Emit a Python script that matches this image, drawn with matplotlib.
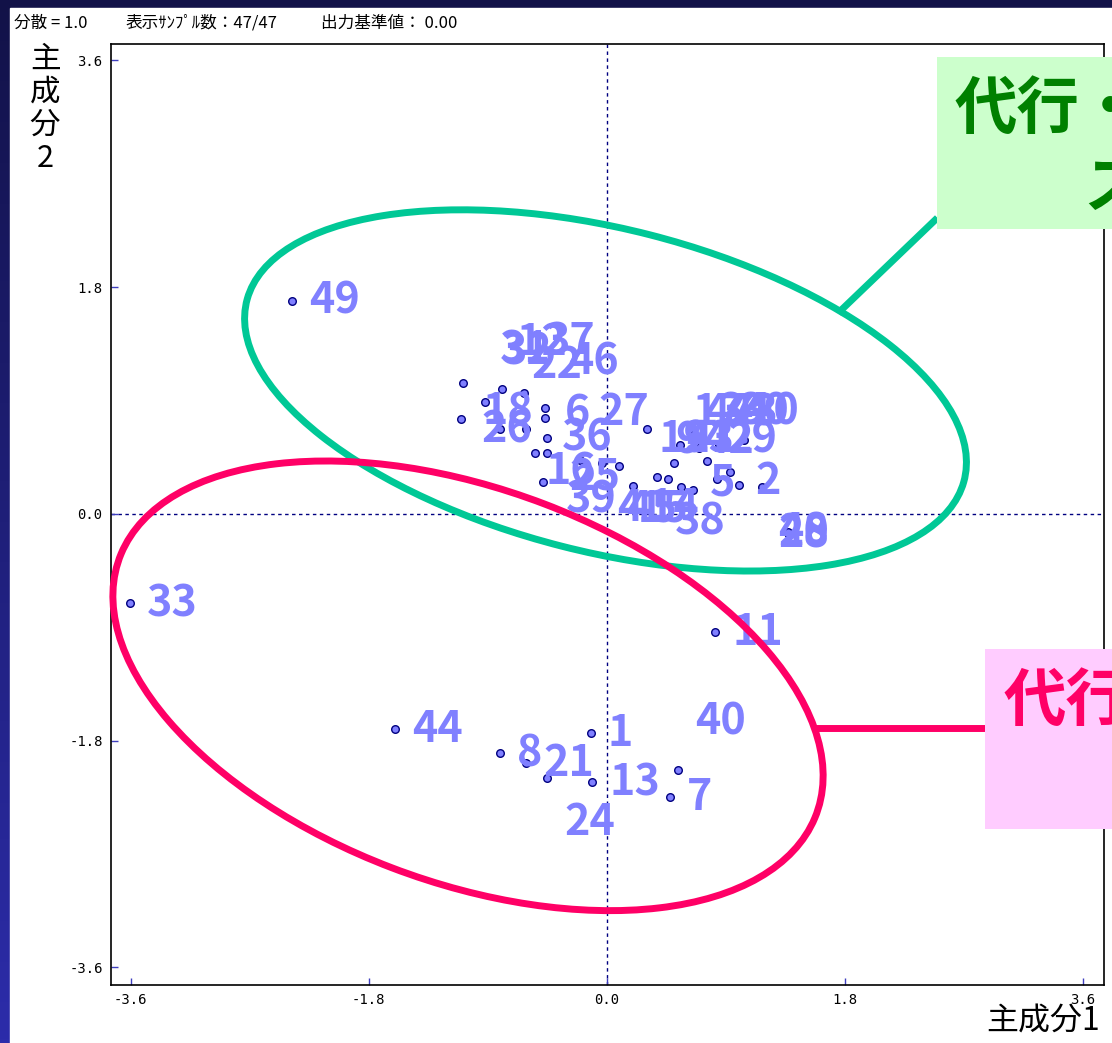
import matplotlib
matplotlib.use("Agg")
import matplotlib.pyplot as plt
from matplotlib.colors import LinearSegmentedColormap
from matplotlib.patches import Ellipse, Rectangle
import numpy as np

plt.rcParams['font.family'] = ['Noto Sans CJK JP', 'DejaVu Sans']
plt.rcParams['axes.unicode_minus'] = False

# principal component scores per sample
sample_ids = [33, 44, 8, 21, 24, 1, 13, 40, 7, 11, 49,
              20, 28, 48,
              31, 12, 37, 32, 18, 6, 36, 22, 46, 16, 25, 39, 26,
              27, 4, 45, 15, 19, 14, 38, 9, 41, 5, 23, 42, 47, 17,
              29, 43, 34, 2, 30, 10]
pc1 = [-3.61, -1.60, -0.81, -0.61, -0.45, -0.12, -0.11, 0.54, 0.48, 0.82, -2.38,
       1.37, 1.38, 1.37,
       -1.09, -0.79, -0.63, -0.92, -1.10, -0.47, -0.47, -0.61, -0.45, -0.54, -0.45, -0.48, -0.81,
       -0.20, -0.04, 0.09, 0.20, 0.30, 0.38, 0.46, 0.51, 0.56, 0.65, 0.63, 0.76, 0.70, 0.55,
       0.83, 0.93, 0.85, 1.00, 1.17, 1.04]
pc2 = [-0.71, -1.71, -1.90, -1.98, -2.10, -1.74, -2.13, -2.03, -2.25, -0.94, 1.69,
       -0.15, -0.16, -0.14,
       1.04, 0.99, 0.96, 0.89, 0.75, 0.84, 0.76, 0.67, 0.60, 0.48, 0.48, 0.25, 0.67,
       0.43, 0.40, 0.38, 0.22, 0.67, 0.29, 0.28, 0.40, 0.21, 0.19, 0.67, 0.42, 0.52, 0.55,
       0.28, 0.33, 0.55, 0.23, 0.21, 0.59]

ticks = [-3.6, -1.8, 0.0, 1.8, 3.6]
header_parts = ["分散 = 1.0", "表示ｻﾝﾌﾟﾙ数：47/47", "出力基準値： 0.00"]
x_title = "主成分1"
y_title = "主成分2"
group_a_text = ["代行・", "ス"]
group_b_text = ["代行"]

# label offsets (pixels, right/up) where labels were pushed off their points
label_shift = {
    31: (37, 33), 12: (14, 47), 37: (21, 51), 32: (17, 50), 18: (21, 8),
    6: (20, -5), 36: (17, -19), 22: (5, 64), 46: (21, 77), 16: (10, -18),
    25: (22, -24), 39: (22, -17), 26: (-18, 0), 27: (18, 48), 4: (16, -45),
    45: (7, -42), 15: (4, -22), 19: (12, -10), 14: (-9, -30), 38: (7, -43),
    9: (1, 23), 41: (5, 48), 5: (17, 7), 23: (-7, -10), 42: (-4, 21),
    47: (5, 36), 17: (13, 33), 29: (10, 39), 43: (-3, 60), 34: (0, 33),
    2: (16, 4), 30: (-23, 76), 10: (4, 28), 24: (17, -44), 40: (17, 48),
    20: (-10, 0), 28: (-11, 0), 48: (-10, 0),
}

W, H = 1112, 1043
fig = plt.figure(figsize=(W / 100, H / 100), dpi=100)

# slide background: navy gradient with a white sheet
bg = fig.add_axes([0, 0, 1, 1])
navy = LinearSegmentedColormap.from_list("navy", ["#2c2caa", "#121248"])
bg.imshow(np.linspace(0, 1, 256).reshape(-1, 1), cmap=navy, aspect='auto',
          extent=[0, 1, 0, 1], origin='lower')
bg.add_patch(Rectangle((10 / W, 0), 1, 1 - 8 / H, color='white'))
bg.set_xlim(0, 1)
bg.set_ylim(0, 1)
bg.axis('off')

ax = fig.add_axes([111 / W, (H - 985) / H, (1104 - 111) / W, (985 - 44) / H])
ax.set_xlim(-3.75, 3.76)
ax.set_ylim(-3.74, 3.73)
ax.set_facecolor('white')
for sp in ax.spines.values():
    sp.set_color('black')
    sp.set_linewidth(1.2)

ax.axhline(0, color='#000080', lw=1, ls=(0, (2.5, 2.5)), zorder=1)
ax.axvline(0, color='#000080', lw=1, ls=(0, (2.5, 2.5)), zorder=1)

ax.set_xticks(ticks)
ax.set_yticks(ticks)
ax.set_xticklabels([f"{t:.1f}" for t in ticks], fontfamily='DejaVu Sans Mono', fontsize=10)
ax.set_yticklabels([f"{t:.1f}" for t in ticks], fontfamily='DejaVu Sans Mono', fontsize=10)
ax.tick_params(direction='in', length=5, width=1, color='#4040c0', pad=6)

ax.scatter(pc1, pc2, s=30, c='#8080ff', edgecolors='#000080', linewidths=1, zorder=3)
for sid, x, y in zip(sample_ids, pc1, pc2):
    dx, dy = label_shift.get(sid, (17, 0))
    ax.annotate(str(sid), (x, y), xytext=(dx, dy), textcoords='offset pixels',
                ha='left', va='center', fontsize=31, fontweight='bold',
                color='#8080ff', zorder=4)

# grouping ellipses and their callouts
green = '#00c896'
pink = '#ff0066'
ax.add_patch(Ellipse((-0.01, 0.98), 5.61, 2.56, angle=-15, fill=False,
                     ec=green, lw=5, zorder=5, clip_on=False))
ax.add_patch(Ellipse((-1.05, -1.365), 5.65, 3.11, angle=-21.8, fill=False,
                     ec=pink, lw=5, zorder=5, clip_on=False))
ax.plot([1.75, 2.50], [1.595, 2.35], color=green, lw=5, zorder=5,
        solid_capstyle='butt', clip_on=False)
ax.plot([1.55, 2.86], [-1.70, -1.70], color=pink, lw=5, zorder=5,
        solid_capstyle='butt', clip_on=False)

ax.add_patch(Rectangle((2.50, 2.26), 1.6, 1.37, fc='#ccffcc', ec='none',
                       zorder=6, clip_on=False))
ax.add_patch(Rectangle((2.86, -2.50), 1.6, 1.43, fc='#ffccff', ec='none',
                       zorder=6, clip_on=False))
ax.text(2.63, 3.21, group_a_text[0], fontsize=45, fontweight='bold', color='#008000',
        ha='left', va='center', zorder=7, clip_on=False)
ax.text(3.60, 2.58, group_a_text[1], fontsize=45, fontweight='bold', color='#008000',
        ha='left', va='center', zorder=7, clip_on=False)
ax.text(3.00, -1.49, group_b_text[0], fontsize=45, fontweight='bold', color=pink,
        ha='left', va='center', zorder=7, clip_on=False)

# titles and header
fig.text(1100 / W, 1 - 1022 / H, x_title, ha='right', va='center', fontsize=23)
fig.text(45 / W, 1 - 44 / H, "\n".join(y_title), ha='center', va='top',
         fontsize=22, linespacing=1.08)
for txt, px in zip(header_parts, [14, 126, 321]):
    fig.text(px / W, 1 - 23 / H, txt, ha='left', va='center', fontsize=12)

fig.savefig('out.png', dpi=100)
